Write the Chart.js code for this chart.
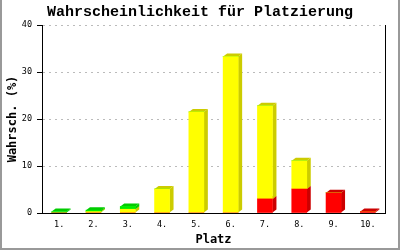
<!DOCTYPE html>
<html>
<head>
<meta charset="utf-8">
<script src="https://cdn.jsdelivr.net/npm/chart.js@4"></script>
<style>
  html, body { margin: 0; padding: 0; background: #fff; }
  #wrap { width: 400px; height: 250px; }
</style>
</head>
<body>
<div id="wrap"><canvas id="chart" width="400" height="250"></canvas></div>
<script>
var places = ['1.', '2.', '3.', '4.', '5.', '6.', '7.', '8.', '9.', '10.'];
var redValues = [0, 0, 0, 0, 0, 0, 3.0, 5.1, 4.3, 0.3];
var yellowValues = [0, 0.3, 0.8, 5.1, 21.5, 33.3, 19.8, 6.0, 0, 0];
var greenValues = [0.3, 0.3, 0.6, 0, 0, 0, 0, 0, 0, 0];
var yTicks = [0, 10, 20, 30, 40];

var mono = "'DejaVu Sans Mono', 'Liberation Mono', monospace";
var depthX = 4, depthY = 3;

// draws the side and top faces of every bar before chart.js paints the fronts
var bars3d = {
  id: 'bars3d',
  beforeDatasetsDraw: function(chart) {
    var ctx = chart.ctx;
    chart.data.datasets.forEach(function(ds, i) {
      var meta = chart.getDatasetMeta(i);
      meta.data.forEach(function(bar, j) {
        if (!ds.data[j]) return;
        var left = bar.x - bar.width / 2, right = bar.x + bar.width / 2;
        var top = bar.y, base = bar.base;
        ctx.save();
        ctx.fillStyle = ds.sideColor;
        ctx.beginPath();
        ctx.moveTo(right, base);
        ctx.lineTo(right + depthX, base - depthY);
        ctx.lineTo(right + depthX, top - depthY);
        ctx.lineTo(right, top);
        ctx.closePath();
        ctx.fill();
        ctx.beginPath();
        ctx.moveTo(left, top);
        ctx.lineTo(left + depthX, top - depthY);
        ctx.lineTo(right + depthX, top - depthY);
        ctx.lineTo(right, top);
        ctx.closePath();
        ctx.fill();
        ctx.restore();
      });
    });
  },
  afterDraw: function(chart) {
    var ctx = chart.ctx, a = chart.chartArea;
    ctx.save();
    ctx.strokeStyle = '#000';
    ctx.lineWidth = 1;
    ctx.beginPath();
    ctx.moveTo(Math.round(a.right) + 0.5, a.top);
    ctx.lineTo(Math.round(a.right) + 0.5, a.bottom);
    ctx.stroke();
    ctx.strokeStyle = '#999';
    ctx.lineWidth = 2;
    ctx.beginPath();
    ctx.moveTo(1, 0);
    ctx.lineTo(1, 249);
    ctx.lineTo(399, 249);
    ctx.lineTo(399, 0);
    ctx.stroke();
    ctx.restore();
  }
};

var ctx = document.getElementById('chart').getContext('2d');
var chart = new Chart(ctx, {
  type: 'bar',
  data: {
    labels: places,
    datasets: [
      { label: 'rot', data: redValues, backgroundColor: '#ff0000', sideColor: '#cc0000', barThickness: 15, stack: 's' },
      { label: 'gelb', data: yellowValues, backgroundColor: '#ffff00', sideColor: '#cccc00', barThickness: 15, stack: 's' },
      { label: 'gruen', data: greenValues, backgroundColor: '#00ee00', sideColor: '#00cc00', barThickness: 15, stack: 's' }
    ]
  },
  options: {
    responsive: false,
    animation: false,
    layout: { padding: 0 },
    plugins: {
      legend: { display: false },
      tooltip: { enabled: false },
      title: {
        display: true,
        text: 'Wahrscheinlichkeit für Platzierung',
        color: '#000',
        font: { family: "'Liberation Mono', monospace", size: 15, weight: 'bold', lineHeight: 1.2 },
        padding: { top: 3, bottom: 4 }
      }
    },
    scales: {
      x: {
        stacked: true,
        grid: { display: false, drawTicks: false },
        border: { display: true, color: '#000', width: 1 },
        ticks: { color: '#000', padding: 7, font: { family: mono, size: 8.5 } },
        title: { display: true, text: 'Platz', color: '#000', font: { family: mono, size: 12, weight: 'bold' }, padding: { top: 2, bottom: 3 } },
        afterFit: function(s) { s.height = 37; }
      },
      y: {
        stacked: true,
        min: 0,
        max: 40,
        afterBuildTicks: function(s) { s.ticks = yTicks.map(function(v) { return { value: v }; }); },
        grid: { color: '#bbbbbb', tickColor: '#000', tickLength: 5, tickBorderDash: [] },
        border: { display: true, color: '#000', width: 1, dash: [2, 4] },
        ticks: { color: '#000', padding: 5, font: { family: mono, size: 8.5 } },
        title: { display: true, text: 'Wahrsch. (%)', color: '#000', font: { family: mono, size: 12, weight: 'bold' }, padding: { top: 6, bottom: 4 } },
        afterFit: function(s) { s.width = 42; }
      },
      yRight: {
        position: 'right',
        display: true,
        grid: { display: false, drawTicks: false },
        border: { display: false },
        ticks: { display: false },
        afterFit: function(s) { s.width = 15; }
      }
    }
  },
  plugins: [bars3d]
});
</script>
</body>
</html>
